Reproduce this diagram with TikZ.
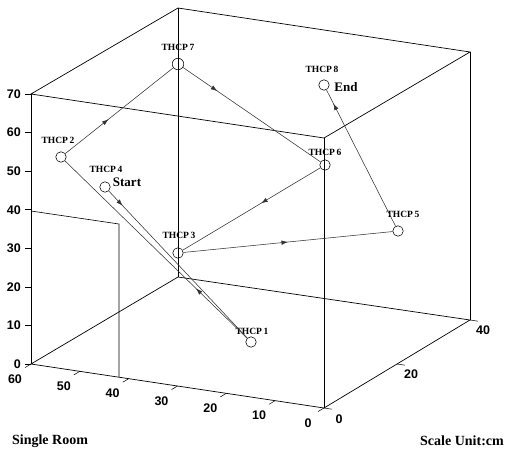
\documentclass[tikz,border=0pt]{standalone}
\usepackage{fontspec}
\setmainfont{Liberation Serif}
\newfontfamily\axisfont{Liberation Sans}
\usetikzlibrary{arrows.meta,decorations.markings}

\begin{document}
\begin{tikzpicture}[x=1pt,y=-1pt,
  edge/.style={line width=0.7pt, black},
  wall/.style={line width=0.6pt, black},
  route/.style={line width=0.55pt, black!80},
  tick/.style={line width=0.5pt, black},
  wp/.style={circle, draw, line width=0.55pt, minimum size=10.5pt, inner sep=0pt},
  tag/.style={font=\bfseries\fontsize{9.5}{9.5}\selectfont, inner sep=0pt},
  big/.style={font=\bfseries\fontsize{13}{13}\selectfont, inner sep=0pt},
  num/.style={font=\axisfont\bfseries\fontsize{12.5}{12.5}\selectfont, inner sep=0pt},
  caption/.style={font=\bfseries\fontsize{14}{14}\selectfont, inner sep=0pt},
  mid/.style={postaction={decorate, decoration={markings,
      mark=at position #1 with {\arrow{Latex[length=6.5pt,width=4.5pt]}}}}},
]
\useasboundingbox (0,0) rectangle (506,452);

% box corners: 0 = floor, 1 = ceiling
\coordinate (L0) at (31,364);  \coordinate (L1) at (31,94);
\coordinate (F0) at (324,408); \coordinate (F1) at (324,138);
\coordinate (R0) at (470,320); \coordinate (R1) at (470,52);
\coordinate (B0) at (178,277); \coordinate (B1) at (178,8);

% room box
\draw[edge] (L0) -- (F0) -- (R0) -- (B0) -- cycle;
\draw[edge] (L1) -- (F1) -- (R1) -- (B1) -- cycle;
\draw[edge] (L0) -- (L1) (F0) -- (F1) (R0) -- (R1) (B0) -- (B1);

% inner wall
\coordinate (W1) at (31,211);
\coordinate (W2) at (119,224);
\coordinate (W3) at (119,377);
\draw[wall] (W1) -- (W2) -- (W3);

% vertical axis ticks and labels
\foreach \v [count=\i from 0] in {0,10,20,30,40,50,60,70} {
  \draw[tick] (31,364-\i*38.57) -- ++(-6,0);
  \node[num, anchor=east] at (21,364-\i*38.57) {\v};
}

% front axis ticks and labels
\foreach \v [count=\i from 0] in {60,50,40,30,20,10,0} {
  \draw[tick] (31+\i*48.83,364+\i*7.33) -- ++(-6,3.6);
  \node[num] at (15+\i*48.83,379+\i*7.33) {\v};
}

% side axis ticks and labels
\foreach \v [count=\i from 0] in {0,20,40} {
  \draw[tick] (324+\i*73,408-\i*44) -- ++(8,1.2);
  \node[num] at (339+\i*72,419-\i*44.5) {\v};
}

% waypoints
\node[wp] (p1) at (251,342) {};
\node[wp] (p2) at (61,157) {};
\node[wp] (p3) at (178,253) {};
\node[wp] (p4) at (105,187) {};
\node[wp] (p5) at (398,231) {};
\node[wp] (p6) at (325,165) {};
\node[wp, minimum size=11.5pt] (p7) at (178,64) {};
\node[wp] (p8) at (324,85) {};

% waypoint labels
\node[tag] (t1) at (252,331) {THCP\,1};
\node[tag] (t2) at (58,140) {THCP\,2};
\node[tag] (t3) at (179,235) {THCP\,3};
\node[tag] (t4) at (106,169) {THCP\,4};
\node[tag] (t5) at (403,214) {THCP\,5};
\node[tag] (t6) at (325,152) {THCP\,6};
\node[tag] (t7) at (178,47) {THCP\,7};
\node[tag] (t8) at (322,69) {THCP\,8};
\node[big] (start) at (127,182) {Start};
\node[big] (end) at (346,87) {End};

% route
\draw[route, mid=0.1] (p4) -- (p1);
\draw[route, mid=0.28] (p1) -- (p2);
\draw[route, mid=0.4]  (p2) -- (p7);
\draw[route, mid=0.25] (p7) -- (p6);
\draw[route, mid=0.43] (p6) -- (p3);
\draw[route, mid=0.5]  (p3) -- (p5);
\draw[route, mid=0.9]  (p5) -- (p8);

% captions
\node[caption] (room) at (50,441) {Single Room};
\node[caption] (unit) at (462,441) {Scale Unit:cm};
\end{tikzpicture}
\end{document}
